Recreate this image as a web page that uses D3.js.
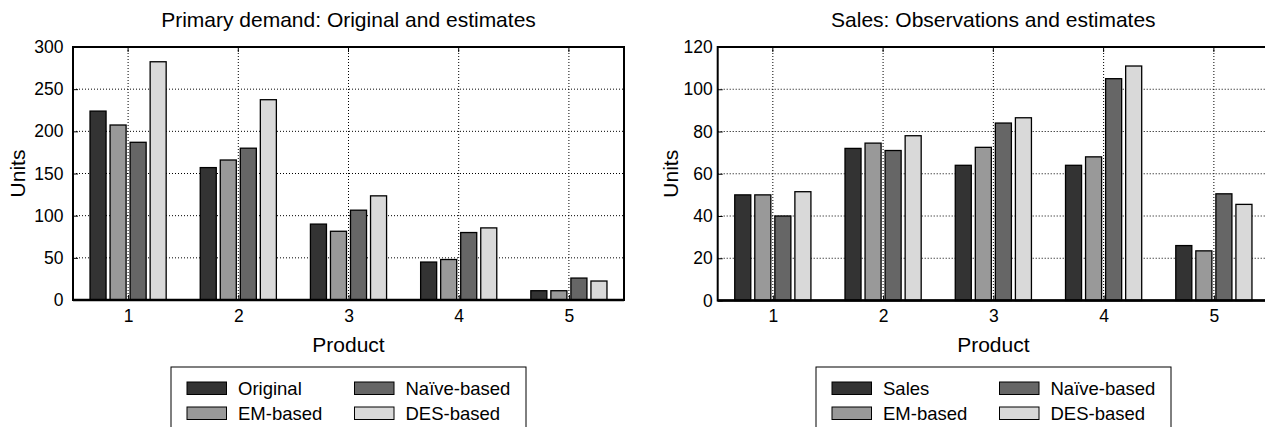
<!DOCTYPE html>
<html lang="en">
<head>
<meta charset="utf-8">
<script src="https://cdn.jsdelivr.net/npm/d3@7"></script>
<style>
  body { margin: 0; background: #fff; }
  svg { display: block; font-family: "Liberation Sans", Arial, Helvetica, sans-serif; }
  .grid line { stroke: #000; stroke-width: 1; stroke-dasharray: 1,2; }
  .tick text { fill: #000; }
</style>
</head>
<body>
<svg id="chart" width="1265" height="427"></svg>
<script>
// products on the x axis
var products = [1, 2, 3, 4, 5];

// left panel: primary demand
var demandSeries = ["Original", "EM-based", "Naïve-based", "DES-based"];
var demandOriginal = [224, 157, 90, 45, 11];
var demandEM = [207.5, 166, 81.5, 48, 11];
var demandNaive = [187, 180, 106.5, 80, 26];
var demandDES = [282.5, 237.5, 123.5, 85.5, 22.5];
var demandTicks = [0, 50, 100, 150, 200, 250, 300];

// right panel: sales
var salesSeries = ["Sales", "EM-based", "Naïve-based", "DES-based"];
var salesObserved = [50, 72, 64, 64, 26];
var salesEM = [50, 74.5, 72.5, 68, 23.5];
var salesNaive = [40, 71, 84, 105, 50.5];
var salesDES = [51.5, 78, 86.5, 111, 45.5];
var salesTicks = [0, 20, 40, 60, 80, 100, 120];

var colors = ["#333333", "#999999", "#666666", "#d9d9d9"];

var svg = d3.select("#chart");

// draw one panel
function drawPanel(p) {
  var x = d3.scaleLinear().domain([0.5, 5.5]).range([p.left, p.right]);
  var y = d3.scaleLinear().domain([0, p.yMax]).range([p.bottom, p.top]);
  var g = svg.append("g");

  //grid lines
  var grid = g.append("g").attr("class", "grid");
  grid.selectAll("line.v")
    .data(products)
    .enter()
    .append("line")
    .attr("x1", d => x(d)).attr("x2", d => x(d))
    .attr("y1", p.top).attr("y2", p.bottom);
  grid.selectAll("line.h")
    .data(p.ticks.slice(1, -1))
    .enter()
    .append("line")
    .attr("x1", p.left).attr("x2", p.right)
    .attr("y1", d => y(d)).attr("y2", d => y(d));

  //bars, MATLAB style grouping
  var n = p.values.length;
  var pitch = (n / (n + 1.5)) / n;
  var bw = (x(1 + pitch * 0.8) - x(1));
  p.values.forEach(function(vals, j) {
    g.selectAll("rect.s" + j)
      .data(vals)
      .enter()
      .append("rect")
      .attr("x", (d, i) => x(products[i] + (j - (n - 1) / 2) * pitch) - bw / 2)
      .attr("y", d => y(d))
      .attr("width", bw)
      .attr("height", d => y(0) - y(d))
      .style("fill", colors[j])
      .style("stroke", "#000")
      .style("stroke-width", 1.3);
  });

  //axes
  var yAxis = d3.axisLeft(y).tickValues(p.ticks).tickFormat(d3.format("d")).tickSize(-5).tickPadding(p.yPad);
  var xAxis = d3.axisBottom(x).tickValues(products).tickFormat(d3.format("d")).tickSize(-5).tickPadding(9.5);
  var ya = g.append("g").attr("transform", "translate(" + p.left + ",0)").call(yAxis);
  var xa = g.append("g").attr("transform", "translate(0," + p.bottom + ")").call(xAxis);
  [ya, xa].forEach(a => {
    a.select(".domain").remove();
    a.selectAll(".tick line").style("stroke", "#000").style("stroke-width", 1);
    a.selectAll("text").style("font-size", "17.5px");
  });
  // top ticks
  g.selectAll("line.tt")
    .data(products)
    .enter()
    .append("line")
    .attr("x1", d => x(d)).attr("x2", d => x(d))
    .attr("y1", p.top).attr("y2", p.top + 5)
    .style("stroke", "#000");

  //frame
  g.append("rect")
    .attr("x", p.left).attr("y", p.top)
    .attr("width", p.right - p.left).attr("height", p.bottom - p.top)
    .style("fill", "none").style("stroke", "#000").style("stroke-width", 2);
  g.append("line")
    .attr("x1", p.left).attr("x2", p.right)
    .attr("y1", p.bottom).attr("y2", p.bottom)
    .style("stroke", "#000").style("stroke-width", 2.5);

  //labels
  g.append("text")
    .attr("x", (p.left + p.right) / 2).attr("y", 27)
    .attr("text-anchor", "middle")
    .style("font-size", "21px")
    .text(p.title);
  g.append("text")
    .attr("x", (p.left + p.right) / 2).attr("y", 352)
    .attr("text-anchor", "middle")
    .style("font-size", "21px")
    .text("Product");
  g.append("text")
    .attr("transform", "translate(" + p.unitsX + "," + (p.top + p.bottom) / 2 + ") rotate(-90)")
    .attr("text-anchor", "middle")
    .style("font-size", "21px")
    .text("Units");

  //legend
  var lg = g.append("g");
  lg.append("rect")
    .attr("x", p.legX).attr("y", 367)
    .attr("width", 355).attr("height", 80)
    .style("fill", "#fff").style("stroke", "#000").style("stroke-width", 1);
  lg.selectAll("g.item")
    .data(p.series)
    .enter()
    .append("g")
    .each(function(d, j) {
      var col = j < 2 ? 0 : 1;
      var row = j % 2;
      var sx = p.legX + 16 + col * 167.5;
      var sy = 382 + row * 25;
      var it = d3.select(this);
      it.append("rect")
        .attr("x", sx).attr("y", sy)
        .attr("width", 39.5).attr("height", 12.5)
        .style("fill", colors[j]).style("stroke", "#000").style("stroke-width", 1);
      it.append("text")
        .attr("x", sx + 51).attr("y", sy + 13)
        .style("font-size", "18.5px")
        .text(d);
    });
}

drawPanel({
  left: 73, right: 624, top: 47, bottom: 300, yMax: 300, ticks: demandTicks, yPad: 9.5,
  values: [demandOriginal, demandEM, demandNaive, demandDES],
  series: demandSeries,
  title: "Primary demand: Original and estimates",
  unitsX: 25, legX: 171
});

drawPanel({
  left: 717.7, right: 1269, top: 47, bottom: 300.5, yMax: 120, ticks: salesTicks, yPad: 5,
  values: [salesObserved, salesEM, salesNaive, salesDES],
  series: salesSeries,
  title: "Sales: Observations and estimates",
  unitsX: 678, legX: 816
});
</script>
</body>
</html>
